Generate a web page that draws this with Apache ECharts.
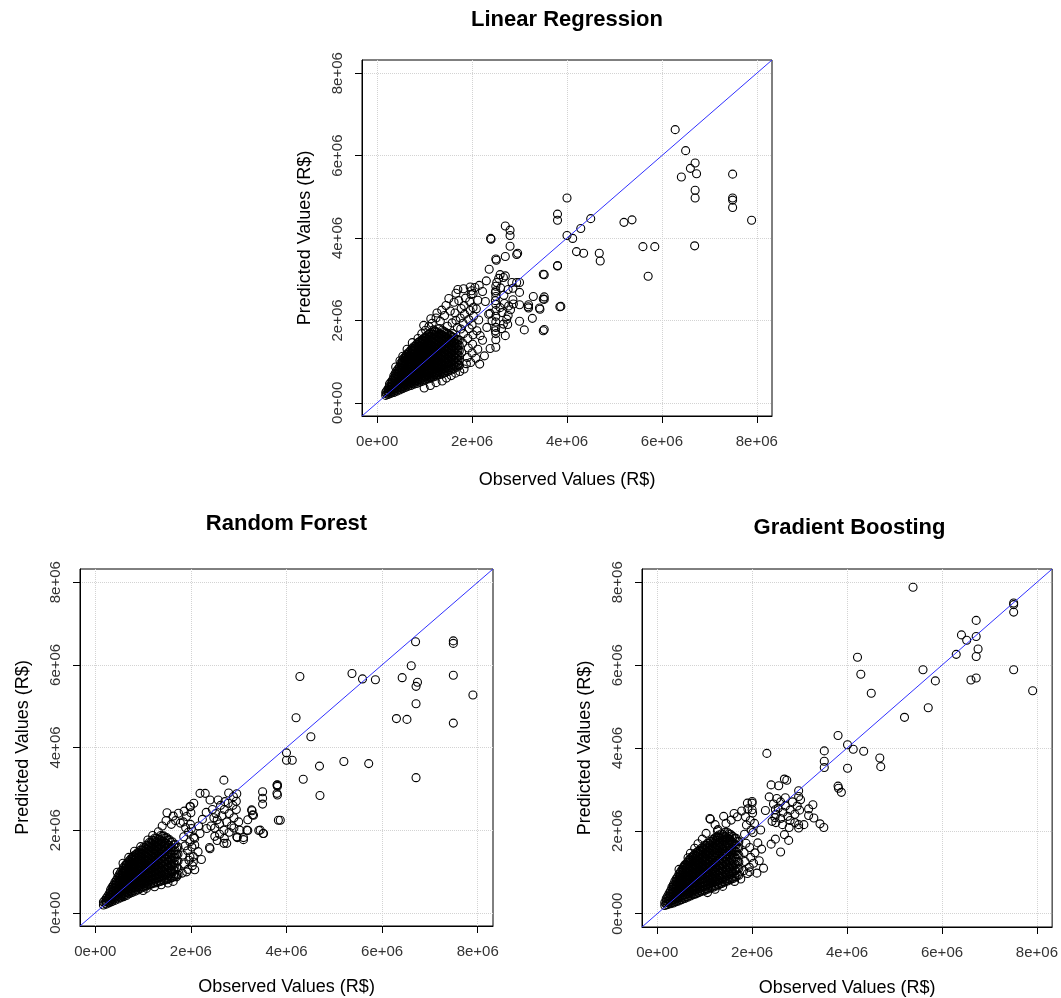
<!DOCTYPE html>
<html>
<head>
<meta charset="utf-8" />
<title>Observed vs Predicted</title>
<style>
  html, body, #chart { width: 100%; height: 100%; margin: 0; overflow: hidden; background: #fff; }
</style>
</head>
<body>
<div id="chart"></div>
<script src="https://cdn.jsdelivr.net/npm/echarts@6/dist/echarts.min.js"></script>
<script>
// all values below are in units of 1e5 R$ : [observed, predicted]
// "core" rows are [observed, predicted1, predicted2, ...] for the dense black blob
var UNIT = 1e5;
var tickValues = [0, 2e6, 4e6, 6e6, 8e6];
var axisMin = -0.32e6, axisMax = 8.32e6;

// ---- Linear Regression ----
var lrCore = [
  [1.8, 1.8, 2.5], [2.3, 2.0, 2.7, 3.4], [2.9, 2.3, 3.0, 3.7, 4.4, 5.0],
  [3.5, 2.5, 3.2, 3.9, 4.6, 5.3, 6.0, 6.5], [4.1, 2.8, 3.5, 4.2, 4.9, 5.6, 6.3, 7.0, 7.7],
  [4.7, 3.1, 3.8, 4.5, 5.2, 5.9, 6.6, 7.3, 8.0, 8.7],
  [5.3, 3.4, 4.1, 4.8, 5.5, 6.2, 6.9, 7.6, 8.3, 9.0, 9.7, 10.2],
  [5.9, 3.7, 4.4, 5.1, 5.8, 6.5, 7.2, 7.9, 8.6, 9.3, 10.0, 10.7, 11.2],
  [6.5, 4.0, 4.7, 5.4, 6.1, 6.8, 7.5, 8.2, 8.9, 9.6, 10.3, 11.0, 11.7, 12.1],
  [7.1, 4.2, 4.9, 5.6, 6.4, 7.1, 7.8, 8.5, 9.2, 9.9, 10.6, 11.3, 12.0, 12.8],
  [7.7, 4.5, 5.2, 5.9, 6.7, 7.4, 8.1, 8.8, 9.5, 10.2, 10.9, 11.7, 12.4, 13.1, 13.6],
  [8.3, 4.7, 5.4, 6.2, 6.9, 7.6, 8.4, 9.1, 9.8, 10.5, 11.3, 12.0, 12.7, 13.5, 14.2],
  [8.9, 5.0, 5.7, 6.5, 7.2, 8.0, 8.7, 9.4, 10.2, 10.9, 11.6, 12.4, 13.1, 13.9, 14.8],
  [9.5, 5.2, 6.0, 6.7, 7.5, 8.3, 9.0, 9.8, 10.5, 11.3, 12.0, 12.8, 13.6, 14.4, 15.3],
  [10.1, 5.5, 6.3, 7.0, 7.8, 8.6, 9.4, 10.1, 10.9, 11.7, 12.4, 13.2, 14.0, 14.9, 15.9],
  [10.7, 5.8, 6.6, 7.3, 8.1, 8.9, 9.7, 10.5, 11.3, 12.1, 12.9, 13.7, 14.5, 15.4, 16.5],
  [11.3, 6.0, 6.8, 7.6, 8.4, 9.2, 10.0, 10.8, 11.6, 12.4, 13.3, 14.1, 15.0, 16.0, 17.1],
  [11.9, 6.3, 7.1, 7.9, 8.7, 9.5, 10.4, 11.2, 12.0, 12.8, 13.7, 14.6, 15.5, 16.6, 17.7],
  [12.5, 6.5, 7.3, 8.2, 9.0, 9.9, 10.7, 11.6, 12.4, 13.3, 14.2, 15.1, 16.1, 17.2],
  [13.1, 6.8, 7.6, 8.5, 9.3, 10.2, 11.1, 12.0, 12.8, 13.7, 14.7, 15.7, 16.8, 18.0],
  [13.7, 7.0, 7.9, 8.8, 9.7, 10.6, 11.5, 12.4, 13.3, 14.3, 15.3, 16.4, 17.6],
  [14.3, 7.3, 8.2, 9.1, 10.0, 11.0, 11.9, 12.9, 13.9, 14.9, 16.0, 17.2],
  [14.9, 7.6, 8.5, 9.5, 10.4, 11.4, 12.4, 13.4, 14.5, 15.6, 16.8],
  [15.5, 7.9, 8.9, 9.9, 10.9, 11.9, 12.9, 14.0, 15.1, 16.3],
  [16.1, 8.2, 9.2, 10.3, 11.4, 12.5, 13.6, 14.8, 15.9],
  [16.7, 8.6, 9.7, 10.8, 11.9, 13.1, 14.3, 15.5],
  [17.3, 9.0, 10.2, 11.4, 12.6, 13.9, 15.2]
];
var lrCore2 = [
  [2.0, 2.2, 2.9], [2.6, 2.5, 3.2, 3.9, 4.6], [3.2, 2.7, 3.4, 4.1, 4.8, 5.5],
  [3.8, 3.0, 3.7, 4.4, 5.1, 5.8, 6.5, 7.1], [4.4, 3.3, 4.0, 4.7, 5.4, 6.1, 6.8, 7.5, 8.2],
  [5.0, 3.6, 4.3, 5.0, 5.7, 6.4, 7.1, 7.8, 8.5, 9.2, 9.7],
  [5.6, 3.9, 4.6, 5.3, 6.0, 6.7, 7.4, 8.1, 8.8, 9.5, 10.2, 10.8],
  [6.2, 4.2, 4.9, 5.6, 6.3, 7.0, 7.7, 8.4, 9.1, 9.8, 10.5, 11.2, 11.7],
  [6.8, 4.5, 5.2, 5.9, 6.6, 7.3, 8.0, 8.7, 9.4, 10.1, 10.8, 11.5, 12.3],
  [7.4, 4.7, 5.4, 6.1, 6.9, 7.6, 8.3, 9.0, 9.7, 10.4, 11.1, 11.9, 12.6, 13.2],
  [8.0, 5.0, 5.7, 6.4, 7.2, 7.9, 8.6, 9.3, 10.0, 10.8, 11.5, 12.2, 12.9, 13.7],
  [8.6, 5.2, 5.9, 6.7, 7.4, 8.2, 8.9, 9.6, 10.4, 11.1, 11.8, 12.6, 13.3, 14.1, 14.6],
  [9.2, 5.5, 6.2, 7.0, 7.7, 8.5, 9.2, 10.0, 10.7, 11.5, 12.2, 13.0, 13.8, 14.6, 15.1],
  [9.8, 5.7, 6.5, 7.2, 8.0, 8.8, 9.5, 10.3, 11.1, 11.8, 12.6, 13.4, 14.2, 15.1, 15.6],
  [10.4, 6.0, 6.8, 7.5, 8.3, 9.1, 9.9, 10.7, 11.5, 12.3, 13.1, 13.9, 14.7, 15.6, 16.2],
  [11.0, 6.3, 7.1, 7.8, 8.6, 9.4, 10.2, 11.0, 11.8, 12.6, 13.5, 14.3, 15.2, 16.1, 16.8],
  [11.6, 6.5, 7.3, 8.1, 8.9, 9.7, 10.6, 11.4, 12.2, 13.0, 13.9, 14.8, 15.7, 16.7],
  [12.2, 6.8, 7.6, 8.4, 9.2, 10.1, 10.9, 11.8, 12.6, 13.5, 14.4, 15.3, 16.3, 17.4],
  [12.8, 7.0, 7.8, 8.7, 9.5, 10.4, 11.3, 12.2, 13.0, 13.9, 14.9, 15.9, 17.0],
  [13.4, 7.3, 8.1, 9.0, 9.9, 10.8, 11.7, 12.6, 13.5, 14.5, 15.5, 16.6],
  [14.0, 7.5, 8.4, 9.3, 10.2, 11.2, 12.1, 13.1, 14.1, 15.1, 16.2, 17.3],
  [14.6, 7.8, 8.7, 9.7, 10.6, 11.6, 12.6, 13.6, 14.7, 15.8, 16.9],
  [15.2, 8.1, 9.1, 10.1, 11.1, 12.1, 13.1, 14.2, 15.3, 16.4],
  [15.8, 8.4, 9.4, 10.5, 11.6, 12.7, 13.8, 14.9, 16.0],
  [16.4, 8.8, 9.9, 11.0, 12.1, 13.3, 14.5, 15.6],
  [17.0, 9.2, 10.4, 11.6, 12.8, 14.1, 15.3]
];
var lrSpread = [
  [17.8,12.2],[18.0,14.5],[18.2,16.8],[18.1,19.3],[18.4,21.5],[18.3,23.6],[18.6,25.4],[19.0,11.0],[19.2,13.3],
  [19.1,15.6],[19.4,18.0],[19.3,20.2],[19.6,22.4],[19.5,24.6],[19.8,26.3],[20.0,12.1],[20.1,14.2],[20.2,16.5],
  [20.0,18.9],[20.3,21.0],[20.2,23.1],[19.9,27.2],[17.6,17.9],[17.5,20.6],[17.7,22.9],[16.9,18.3],[16.6,20.0],
  [18.8,9.5],[19.7,9.8],[17.3,9.2],[19.6,28.1],[20.2,26.5],[18.2,27.7],
  [8.6,15.6],[9.4,16.8],[10.2,17.6],[10.9,18.5],[11.6,19.3],[12.4,20.6],[12.6,21.8],[13.3,19.8],[13.6,22.5],
  [14.2,21.2],[14.5,23.6],[15.1,25.3],[15.4,22.3],[15.8,19.4],[16.2,24.4],[16.6,26.6],[17.0,27.5],[14.8,18.6],
  [12.0,17.2],[11.3,20.4],[9.8,18.8],[7.4,14.6],[6.3,13.0],[5.4,11.3],[4.8,10.2],[3.9,8.7],[13.0,16.5],
  [15.9,16.8],[16.4,21.8],[17.2,24.8],
  [9.9,3.6],[11.2,4.2],[12.4,4.9],[13.7,5.3],[14.6,6.0],[15.6,6.6],[16.5,7.2],[17.4,7.6],[18.3,8.2],
  [20.8,10.8],[21.6,9.4],[22.6,11.4],[21.2,13.0],[22.2,15.2],[21.0,17.5],[21.7,16.3],[23.5,21.5],[23.1,18.3],
  [21.4,20.1],[22.8,24.6],[21.2,24.9],[22.2,27.0],[20.9,22.8],[23.8,13.2],[24.2,19.9],[20.6,28.0],[21.5,28.5],
  [27.0,42.9],[28.0,41.9],[28.0,40.6],[23.9,39.9],[28.0,38.0],[29.6,36.3],[27.0,35.5],[25.0,34.9],[23.6,32.4],
  [23.0,29.6],[25.9,31.1],[27.0,30.8],[30.0,29.2],[30.0,26.8],[28.6,27.8],[30.0,23.8],[30.0,19.8],[25.0,16.8],
  [25.0,13.5],[23.8,21.7],[25.2,29.2],[24.9,26.8],[24.9,24.8],[26.6,30.4],[28.4,29.2],[25.9,23.1],[27.7,23.5],
  [27.3,20.3],[26.6,19.1],[24.9,17.5],[27.0,16.3],[31.8,23.3],[34.3,22.7],[35.0,25.2],[35.0,17.5],[38.5,23.3],
  [38.0,33.2],[35.0,31.2],[29.4,29.2],[25.1,34.6],[29.4,36.0],[24.0,39.7],[25.0,28.3],[25.0,27.2],[25.0,25.8],
  [25.0,23.9],[25.0,22.4],[25.0,21.0],[25.0,19.6],[25.0,18.3],[25.0,15.3],[26.3,21.9],[26.8,24.1],[27.6,21.2],
  [28.1,22.6],[26.2,18.0],[27.5,19.0],[28.6,25.0],[28.7,24.0],[26.7,26.1],[27.6,27.5],[26.0,27.9],[25.6,30.2],
  [35.2,31.1],[35.2,25.7],[35.2,25.1],[34.2,23.0],[32.9,25.8],[31.9,23.8],[31.9,23.0],[32.7,20.5],[35.2,17.8],
  [31.0,17.7],[38.7,23.4],
  [40.0,49.7],[38.0,45.8],[38.0,44.3],[40.0,40.6],[41.2,39.9],[42.9,42.3],[45.0,44.7],[42.0,36.7],[43.5,36.3],
  [46.8,36.3],[47.0,34.4],[38.0,33.3],
  [52.0,43.8],[53.7,44.4],[56.0,37.9],[58.5,37.9],[57.1,30.7],
  [62.8,66.3],[65.0,61.2],[67.0,58.2],[66.0,56.9],[67.3,55.6],[64.1,54.8],[67.0,51.6],[67.0,49.7],[66.9,38.1],
  [74.9,55.5],[74.9,49.7],[74.9,49.2],[74.9,47.4],[78.9,44.3]
];

// ---- Random Forest ----
var rfCore = [
  [1.7, 1.9, 2.6], [2.3, 2.1, 2.8, 3.5], [2.9, 2.4, 3.1, 3.8, 4.6],
  [3.5, 2.7, 3.4, 4.1, 4.8, 5.5, 6.2], [4.1, 3.0, 3.7, 4.4, 5.2, 5.9, 6.7, 7.4],
  [4.7, 3.3, 4.0, 4.8, 5.5, 6.3, 7.0, 7.8, 8.6],
  [5.3, 3.6, 4.3, 5.1, 5.9, 6.6, 7.4, 8.2, 9.0, 9.8],
  [5.9, 3.9, 4.7, 5.5, 6.2, 7.0, 7.8, 8.6, 9.4, 10.2, 10.9],
  [6.5, 4.2, 5.0, 5.8, 6.6, 7.4, 8.2, 9.0, 9.8, 10.6, 11.4, 11.8],
  [7.1, 4.6, 5.4, 6.2, 7.0, 7.8, 8.6, 9.4, 10.2, 11.0, 11.8, 12.6],
  [7.7, 4.9, 5.7, 6.5, 7.3, 8.1, 8.9, 9.8, 10.6, 11.4, 12.2, 13.0, 13.4],
  [8.3, 5.2, 6.0, 6.8, 7.7, 8.5, 9.3, 10.2, 11.0, 11.8, 12.7, 13.5, 14.0],
  [8.9, 5.5, 6.3, 7.2, 8.0, 8.9, 9.7, 10.6, 11.4, 12.3, 13.1, 14.0, 14.6],
  [9.5, 5.9, 6.7, 7.6, 8.4, 9.3, 10.1, 11.0, 11.8, 12.7, 13.6, 14.4, 15.2],
  [10.1, 6.2, 7.0, 7.9, 8.8, 9.7, 10.5, 11.4, 12.3, 13.2, 14.1, 15.0, 15.8],
  [10.7, 6.5, 7.4, 8.3, 9.2, 10.1, 11.0, 11.9, 12.8, 13.7, 14.6, 15.5, 16.4],
  [11.3, 6.8, 7.7, 8.6, 9.5, 10.4, 11.4, 12.3, 13.2, 14.2, 15.1, 16.1, 17.0],
  [11.9, 7.0, 7.9, 8.9, 9.8, 10.8, 11.8, 12.7, 13.7, 14.7, 15.7, 16.7, 17.6],
  [12.5, 7.2, 8.2, 9.2, 10.2, 11.2, 12.2, 13.2, 14.2, 15.2, 16.2, 17.2, 18.1],
  [13.1, 7.4, 8.4, 9.4, 10.5, 11.5, 12.6, 13.6, 14.7, 15.7, 16.8, 17.8],
  [13.7, 7.6, 8.7, 9.8, 10.9, 12.0, 13.1, 14.2, 15.3, 16.4, 17.6, 18.7],
  [14.3, 7.8, 8.9, 10.1, 11.2, 12.4, 13.6, 14.8, 16.0, 17.3, 18.6],
  [14.9, 8.0, 9.2, 10.4, 11.7, 12.9, 14.2, 15.5, 16.8, 18.2],
  [15.5, 8.2, 9.5, 10.8, 12.1, 13.5, 14.9, 16.3, 17.7],
  [16.1, 8.5, 9.9, 11.3, 12.7, 14.2, 15.7, 17.2],
  [16.7, 8.8, 10.3, 11.8, 13.4, 15.0, 16.6],
  [17.3, 9.2, 10.8, 12.5, 14.2, 15.9]
];
var rfCore2 = [
  [2.0, 2.3, 3.0], [2.6, 2.6, 3.3, 4.0], [3.2, 2.9, 3.6, 4.3, 5.0, 5.6],
  [3.8, 3.2, 3.9, 4.6, 5.3, 6.0, 6.7], [4.4, 3.5, 4.2, 4.9, 5.6, 6.3, 7.1, 7.9],
  [5.0, 3.8, 4.6, 5.3, 6.1, 6.8, 7.6, 8.4, 9.2],
  [5.6, 4.1, 4.9, 5.7, 6.4, 7.2, 8.0, 8.8, 9.6, 10.3],
  [6.2, 4.4, 5.2, 6.0, 6.8, 7.6, 8.4, 9.2, 10.0, 10.8, 11.4],
  [6.8, 4.8, 5.6, 6.4, 7.2, 8.0, 8.8, 9.6, 10.4, 11.2, 12.1],
  [7.4, 5.1, 5.9, 6.7, 7.5, 8.4, 9.2, 10.0, 10.8, 11.6, 12.4, 13.0],
  [8.0, 5.4, 6.2, 7.1, 7.9, 8.7, 9.5, 10.4, 11.2, 12.0, 12.9, 13.7],
  [8.6, 5.7, 6.5, 7.4, 8.2, 9.1, 9.9, 10.8, 11.6, 12.5, 13.3, 14.2],
  [9.2, 6.0, 6.9, 7.7, 8.6, 9.5, 10.3, 11.2, 12.0, 12.9, 13.8, 14.7],
  [9.8, 6.3, 7.2, 8.1, 8.9, 9.8, 10.7, 11.6, 12.5, 13.4, 14.3, 15.2],
  [10.4, 6.6, 7.5, 8.4, 9.3, 10.2, 11.1, 12.0, 12.9, 13.8, 14.8, 15.7],
  [11.0, 6.9, 7.8, 8.8, 9.7, 10.6, 11.5, 12.5, 13.4, 14.4, 15.3, 16.3],
  [11.6, 7.1, 8.1, 9.1, 10.0, 11.0, 12.0, 12.9, 13.9, 14.9, 15.9, 16.9],
  [12.2, 7.3, 8.3, 9.3, 10.3, 11.3, 12.3, 13.4, 14.4, 15.4, 16.5, 17.5],
  [12.8, 7.5, 8.5, 9.6, 10.6, 11.7, 12.7, 13.8, 14.9, 16.0, 17.1, 18.0],
  [13.4, 7.7, 8.8, 9.9, 11.0, 12.1, 13.2, 14.3, 15.4, 16.6, 17.8],
  [14.0, 7.9, 9.0, 10.2, 11.3, 12.5, 13.7, 14.9, 16.1, 17.3, 18.5],
  [14.6, 8.1, 9.3, 10.5, 11.7, 13.0, 14.2, 15.5, 16.8, 18.1],
  [15.2, 8.3, 9.6, 10.9, 12.2, 13.5, 14.9, 16.3, 17.6],
  [15.8, 8.6, 10.0, 11.4, 12.8, 14.2, 15.7, 17.1],
  [16.4, 8.9, 10.4, 11.9, 13.4, 14.9, 16.4],
  [17.0, 9.3, 10.9, 12.5, 14.1, 15.7]
];
var rfSpread = [
  [18.2,9.6],[18.6,11.8],[18.3,14.0],[18.8,16.2],[18.5,18.4],[18.9,20.6],[18.4,22.0],[19.4,10.5],[19.6,12.7],
  [19.3,15.0],[19.8,17.2],[19.5,19.5],[19.9,21.4],[20.3,11.4],[20.5,13.6],[20.2,15.9],[20.6,18.3],[20.1,20.4],
  [19.1,23.3],[20.0,24.2],[17.8,21.7],[16.8,22.3],[15.9,21.4],
  [10.0,5.4],[10.7,5.9],[12.4,6.3],[13.8,6.8],[15.2,7.2],[16.3,7.6],[17.0,8.7],[19.1,9.9],[20.8,10.4],
  [20.5,12.3],[19.8,13.5],[21.5,14.8],[22.2,12.9],
  [15.0,24.2],[11.0,17.6],[12.0,18.7],[13.2,19.6],[9.5,16.0],[8.2,14.9],[7.0,13.4],[5.8,12.0],[4.6,9.8],
  [14.0,21.0],[16.3,23.4],[17.4,24.1],[19.8,25.7],[18.6,24.6],[20.6,26.5],[14.8,22.3],
  [21.9,19.2],[23.3,20.4],[20.8,18.0],[20.8,16.4],[24.0,15.5],[25.0,18.5],[26.9,16.8],[29.6,18.4],[31.0,17.7],
  [31.7,20.0],[34.5,20.0],[35.2,19.2],[23.9,15.8],[29.7,18.2],[27.5,16.8],[26.9,20.0],
  [24.5,25.0],[25.2,24.0],[25.5,22.5],[26.0,21.5],[26.5,23.5],[27.0,25.0],[27.5,22.0],[28.0,24.0],[28.5,21.0],
  [29.0,23.0],[29.5,25.0],[30.0,22.0],[30.2,20.0],[25.0,20.5],[26.0,19.0],[27.0,18.0],[28.0,19.5],[29.0,20.5],
  [24.8,23.0],[26.2,26.0],[27.8,26.5],[28.8,26.0],[29.5,27.0],[25.5,17.5],[24.2,21.0],[22.4,22.6],[23.2,24.3],
  [21.6,21.0],[25.7,27.3],[27.1,26.9],[28.9,28.1],[29.6,28.8],[27.9,29.0],[26.9,32.1],[24.0,27.3],[21.9,28.9],
  [23.0,28.9],[19.9,25.7],
  [32.7,24.9],[33.1,23.6],[32.8,24.7],[32.9,23.7],[31.9,22.5],[31.9,19.9],[31.0,18.2],[35.0,29.3],[35.0,27.7],
  [35.0,26.3],[35.1,19.2],[34.2,19.9],[38.0,30.9],[38.0,28.9],[38.3,22.4],[38.1,31.0],[38.1,30.6],[38.1,28.5],
  [38.7,22.4],
  [40.0,38.7],[40.0,36.9],[41.2,36.9],[42.8,57.2],[42.0,47.2],[45.1,42.6],[46.9,35.5],[43.5,32.3],[47.0,28.4],
  [53.7,57.9],[55.9,56.6],[58.6,56.4],[52.0,36.6],[57.2,36.1],
  [67.0,65.6],[74.9,65.8],[74.9,65.2],[66.1,59.8],[64.2,56.9],[67.4,55.8],[67.1,54.8],[74.9,57.5],[79.0,52.7],
  [67.1,50.6],[63.0,47.0],[65.2,46.8],[74.9,45.9],[67.1,32.7]
];

// ---- Gradient Boosting ----
var gbCore = [
  [1.6, 2.0, 2.7], [2.2, 2.2, 2.9, 3.6, 4.2], [2.8, 2.4, 3.1, 3.9, 4.7, 5.5],
  [3.4, 2.6, 3.4, 4.2, 5.0, 5.8, 6.5, 7.0], [4.0, 2.9, 3.7, 4.5, 5.3, 6.1, 6.9, 7.7, 8.4],
  [4.6, 3.1, 3.9, 4.7, 5.6, 6.4, 7.2, 8.0, 8.8, 9.6],
  [5.2, 3.4, 4.2, 5.0, 5.9, 6.7, 7.5, 8.4, 9.2, 10.0, 10.6],
  [5.8, 3.7, 4.5, 5.4, 6.2, 7.1, 7.9, 8.8, 9.6, 10.5, 11.3, 11.6],
  [6.4, 4.0, 4.8, 5.7, 6.6, 7.4, 8.3, 9.2, 10.0, 10.9, 11.8, 12.5],
  [7.0, 4.3, 5.1, 6.0, 6.9, 7.8, 8.7, 9.6, 10.5, 11.4, 12.3, 13.2],
  [7.6, 4.6, 5.5, 6.4, 7.3, 8.2, 9.1, 10.0, 10.9, 11.8, 12.7, 13.6, 14.0],
  [8.2, 4.8, 5.7, 6.6, 7.6, 8.5, 9.5, 10.4, 11.3, 12.3, 13.2, 14.1, 14.7],
  [8.8, 5.1, 6.0, 7.0, 8.0, 8.9, 9.9, 10.8, 11.8, 12.7, 13.7, 14.6, 15.3],
  [9.4, 5.4, 6.4, 7.3, 8.3, 9.3, 10.3, 11.2, 12.2, 13.2, 14.2, 15.1, 15.9],
  [10.0, 5.6, 6.6, 7.6, 8.6, 9.6, 10.6, 11.6, 12.6, 13.6, 14.6, 15.6, 16.5],
  [10.6, 5.9, 6.9, 7.9, 9.0, 10.0, 11.0, 12.1, 13.1, 14.1, 15.1, 16.1, 17.0],
  [11.2, 6.2, 7.2, 8.3, 9.3, 10.4, 11.4, 12.5, 13.5, 14.6, 15.6, 16.6, 17.5],
  [11.8, 6.4, 7.5, 8.6, 9.7, 10.8, 11.8, 12.9, 14.0, 15.1, 16.1, 17.2, 18.0],
  [12.4, 6.7, 7.8, 8.9, 10.0, 11.1, 12.2, 13.3, 14.4, 15.5, 16.6, 17.7, 18.5],
  [13.0, 7.0, 8.1, 9.3, 10.4, 11.6, 12.7, 13.9, 15.0, 16.1, 17.3, 18.4, 19.0],
  [13.6, 7.3, 8.5, 9.7, 10.9, 12.1, 13.3, 14.5, 15.7, 16.9, 18.1, 19.3],
  [14.2, 7.6, 8.8, 10.0, 11.3, 12.5, 13.8, 15.0, 16.3, 17.5, 18.7, 19.6],
  [14.8, 7.9, 9.2, 10.5, 11.8, 13.1, 14.4, 15.7, 17.0, 18.3, 19.6],
  [15.4, 8.2, 9.5, 10.9, 12.2, 13.6, 15.0, 16.4, 17.8, 19.2],
  [16.0, 8.5, 9.9, 11.3, 12.8, 14.2, 15.7, 17.2, 18.6],
  [16.6, 8.9, 10.4, 11.9, 13.4, 15.0, 16.6, 18.2],
  [17.2, 9.3, 10.9, 12.5, 14.1, 15.8, 17.4]
];
var gbCore2 = [
  [1.9, 2.3, 3.0, 3.6], [2.5, 2.5, 3.3, 4.1, 4.9], [3.1, 2.7, 3.5, 4.3, 5.1, 5.9, 6.4],
  [3.7, 3.0, 3.8, 4.6, 5.4, 6.2, 7.0, 7.8], [4.3, 3.3, 4.1, 4.9, 5.7, 6.5, 7.3, 8.1, 8.9],
  [4.9, 3.5, 4.3, 5.2, 6.0, 6.8, 7.7, 8.5, 9.3, 10.1],
  [5.5, 3.8, 4.6, 5.5, 6.3, 7.2, 8.0, 8.9, 9.7, 10.6, 11.2],
  [6.1, 4.1, 5.0, 5.8, 6.7, 7.6, 8.4, 9.3, 10.2, 11.0, 11.9],
  [6.7, 4.4, 5.3, 6.2, 7.1, 8.0, 8.9, 9.8, 10.7, 11.6, 12.5, 13.0],
  [7.3, 4.7, 5.6, 6.5, 7.4, 8.3, 9.3, 10.2, 11.1, 12.0, 12.9, 13.7],
  [7.9, 4.9, 5.9, 6.8, 7.8, 8.7, 9.6, 10.6, 11.5, 12.5, 13.4, 14.3],
  [8.5, 5.2, 6.2, 7.1, 8.1, 9.1, 10.0, 11.0, 12.0, 12.9, 13.9, 14.9],
  [9.1, 5.5, 6.5, 7.5, 8.5, 9.5, 10.5, 11.4, 12.4, 13.4, 14.4, 15.4],
  [9.7, 5.7, 6.7, 7.7, 8.8, 9.8, 10.8, 11.8, 12.8, 13.8, 14.9, 15.9],
  [10.3, 6.0, 7.0, 8.1, 9.1, 10.2, 11.2, 12.3, 13.3, 14.4, 15.4, 16.5],
  [10.9, 6.3, 7.3, 8.4, 9.5, 10.6, 11.6, 12.7, 13.8, 14.8, 15.9, 17.0],
  [11.5, 6.5, 7.6, 8.7, 9.8, 10.9, 12.0, 13.1, 14.2, 15.3, 16.4, 17.5],
  [12.1, 6.8, 7.9, 9.0, 10.2, 11.3, 12.4, 13.6, 14.7, 15.8, 17.0, 18.1],
  [12.7, 7.1, 8.2, 9.4, 10.6, 11.8, 12.9, 14.1, 15.3, 16.5, 17.7, 18.6],
  [13.3, 7.4, 8.6, 9.8, 11.0, 12.2, 13.4, 14.6, 15.9, 17.1, 18.3],
  [13.9, 7.7, 8.9, 10.2, 11.4, 12.7, 13.9, 15.2, 16.5, 17.8, 19.1],
  [14.5, 8.0, 9.3, 10.6, 11.9, 13.2, 14.5, 15.9, 17.2, 18.6],
  [15.1, 8.3, 9.6, 11.0, 12.4, 13.8, 15.2, 16.6, 18.0, 19.3],
  [15.7, 8.6, 10.0, 11.5, 12.9, 14.4, 15.9, 17.4, 18.8],
  [16.3, 9.0, 10.5, 12.0, 13.6, 15.1, 16.7, 18.2],
  [16.9, 9.4, 11.0, 12.6, 14.3, 15.9, 17.5]
];
var gbSpread = [
  [18.2,10.4],[18.5,12.6],[18.3,14.8],[18.7,17.0],[18.4,19.2],[18.8,21.4],[18.6,23.4],[19.4,11.2],[19.7,13.6],
  [19.5,16.0],[19.8,20.2],[19.6,22.5],[20.3,12.2],[20.6,14.7],[20.2,19.6],[20.5,21.8],[20.1,24.3],[19.0,26.7],
  [20.0,27.1],[17.8,24.8],[16.9,23.4],[21.2,17.1],[21.5,12.8],[22.0,15.6],[21.8,20.2],
  [11.2,22.8],[9.5,18.0],[7.9,15.8],[5.8,11.8],[12.8,20.3],[11.1,23.0],[12.7,20.0],[14.5,21.8],[15.6,22.6],
  [10.3,19.4],[8.6,16.9],[7.0,14.6],[6.5,13.5],[4.6,10.7],[16.2,24.2],[14.0,23.5],[12.2,21.5],
  [19.0,9.7],[19.5,10.1],[16.3,7.8],[17.6,8.4],[13.8,6.6],[12.2,5.9],[10.6,5.1],[21.0,9.8],[22.4,11.0],
  [23.1,38.7],[26.8,32.5],[27.3,32.2],[24.0,31.1],[25.6,30.9],[23.6,28.2],[32.8,26.3],[31.9,25.3],[31.9,23.7],
  [33.0,23.1],[30.9,21.5],[29.8,21.5],[34.3,21.7],[35.1,20.8],[29.8,20.7],[29.8,29.7],[29.8,28.3],[24.9,25.1],
  [22.8,24.9],[24.2,22.3],[24.9,18.0],[24.0,16.8],[26.0,14.9],[26.8,19.1],[27.7,17.7],[20.0,26.7],[20.0,25.1],
  [19.1,25.3],
  [25.0,24.0],[25.5,25.5],[26.0,23.0],[26.5,24.5],[27.0,26.0],[27.5,23.5],[28.0,25.0],[28.5,27.0],[29.0,24.0],
  [29.5,26.0],[25.0,22.0],[26.0,27.0],[27.0,28.0],[28.0,22.5],[24.5,26.5],[25.2,27.8],[26.4,21.5],[27.8,20.8],
  [29.0,22.0],[30.0,25.0],[30.2,27.5],[24.8,23.2],
  [35.2,39.3],[35.2,36.8],[35.2,35.3],[38.1,30.8],[38.2,30.3],[38.8,29.3],[38.1,43.0],[40.1,40.8],[41.3,39.7],
  [43.5,39.2],[46.9,37.6],[47.1,35.5],[40.1,35.1],[42.2,61.9],[42.9,57.8],[45.1,53.2],
  [53.9,78.8],[56.0,58.9],[58.6,56.2],[57.1,49.7],[52.1,47.4],
  [75.1,75.0],[75.1,74.6],[75.1,72.8],[67.2,70.8],[64.1,67.3],[65.2,66.0],[67.2,66.9],[67.6,63.9],[63.0,62.6],
  [67.2,62.1],[75.1,58.9],[66.1,56.4],[67.2,56.9],[79.1,53.8]
];

var FONT = 'Liberation Sans, Arial, sans-serif';

function toPoints(cores, spread) {
  var pts = [];
  cores.forEach(function (core) {
    core.forEach(function (col) {
      for (var i = 1; i < col.length; i++) pts.push([col[0] * UNIT, col[i] * UNIT]);
    });
  });
  spread.forEach(function (p) { pts.push([p[0] * UNIT, p[1] * UNIT]); });
  return pts;
}

function sci(v) {
  if (v === 0) return '0e+00';
  var e = Math.floor(Math.log10(Math.abs(v)));
  var m = v / Math.pow(10, e);
  return m + 'e+' + (e < 10 ? '0' : '') + e;
}

var panels = [
  { title: 'Linear Regression', points: toPoints([lrCore, lrCore2], lrSpread),
    grid: { left: 362, top: 60, width: 410, height: 356 }, titleTop: 9, gapX: 55 },
  { title: 'Random Forest', points: toPoints([rfCore, rfCore2], rfSpread),
    grid: { left: 80, top: 569, width: 413, height: 357 }, titleTop: 513, gapX: 52 },
  { title: 'Gradient Boosting', points: toPoints([gbCore, gbCore2], gbSpread),
    grid: { left: 642, top: 569, width: 415, height: 358 }, titleTop: 517, gapX: 52 }
];

function makeAxis(i, isX, gap) {
  return {
    type: 'value',
    gridIndex: i,
    min: axisMin,
    max: axisMax,
    name: isX ? 'Observed Values (R$)' : 'Predicted Values (R$)',
    nameLocation: 'middle',
    nameGap: gap,
    nameTextStyle: { fontFamily: FONT, fontSize: 18, color: '#000' },
    axisLine: { show: true, onZero: false, lineStyle: { color: '#000', width: 1 } },
    axisTick: { show: true, length: 7, customValues: tickValues, lineStyle: { color: '#000', width: 1 } },
    axisLabel: {
      customValues: tickValues,
      formatter: sci,
      fontFamily: FONT,
      fontSize: 15,
      color: '#333',
      margin: isX ? 18 : 17,
      rotate: isX ? 0 : 90
    },
    splitLine: { show: true, lineStyle: { color: '#d3d3d3', type: 'dotted', width: 1 } }
  };
}

var option = { animation: false, title: [], grid: [], xAxis: [], yAxis: [], series: [] };

panels.forEach(function (p, i) {
  option.title.push({
    text: p.title,
    left: p.grid.left + p.grid.width / 2,
    top: p.titleTop,
    textAlign: 'center',
    padding: 0,
    textStyle: { fontFamily: FONT, fontSize: 22, fontWeight: 'bold', color: '#000' }
  });
  option.grid.push({
    left: p.grid.left, top: p.grid.top, width: p.grid.width, height: p.grid.height,
    show: true, borderColor: '#000', borderWidth: 1, backgroundColor: 'transparent'
  });
  option.xAxis.push(makeAxis(i, true, p.gapX));
  option.yAxis.push(makeAxis(i, false, 48));
  option.series.push({
    type: 'scatter',
    xAxisIndex: i, yAxisIndex: i,
    data: p.points,
    symbol: 'circle',
    symbolSize: 8,
    large: false,
    progressive: 0,
    silent: true,
    itemStyle: { color: 'rgba(0,0,0,0)', borderColor: '#000', borderWidth: 1.1, opacity: 1 }
  });
  option.series.push({
    type: 'line',
    xAxisIndex: i, yAxisIndex: i,
    data: [[axisMin, axisMin], [axisMax, axisMax]],
    showSymbol: false,
    silent: true,
    z: 3,
    lineStyle: { color: '#3030ff', width: 1 }
  });
});

var chart = echarts.init(document.getElementById('chart'));
chart.setOption(option);
</script>
</body>
</html>
